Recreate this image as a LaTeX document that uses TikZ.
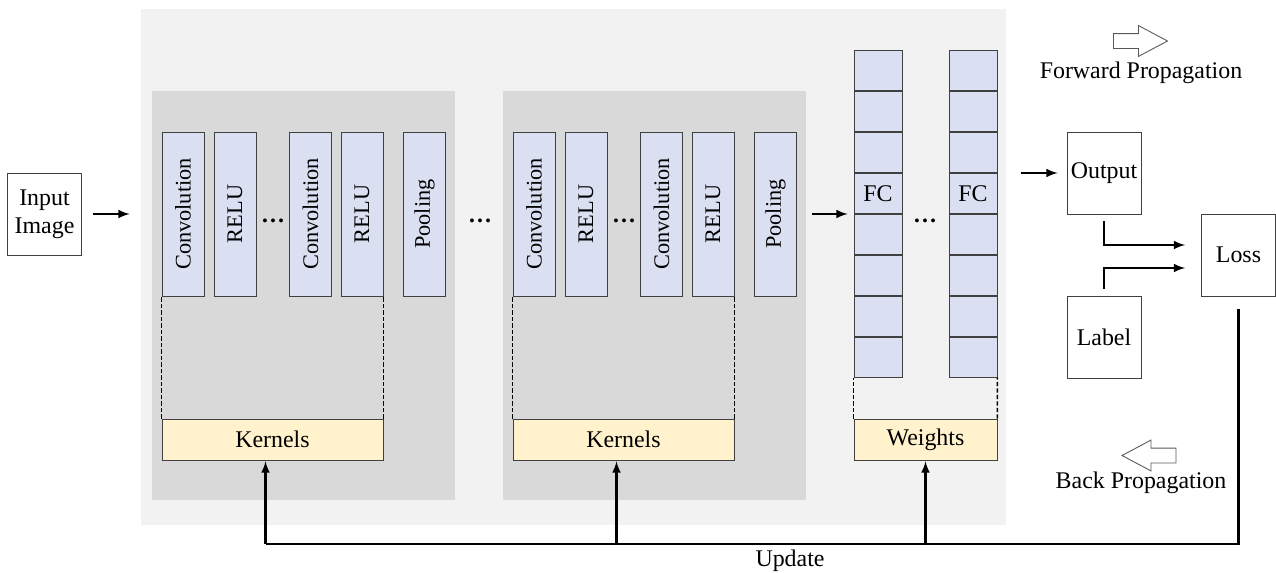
\documentclass[tikz,border=0pt]{standalone}
\usepackage{fontspec}
\setmainfont{LiberationSerif}[Extension=.ttf,UprightFont=*-Regular,BoldFont=*-Bold,ItalicFont=*-Italic,BoldItalicFont=*-BoldItalic]
\usetikzlibrary{arrows,shapes}
\usetikzlibrary{shapes.arrows}
\usetikzlibrary{calc}
\definecolor{outergray}{HTML}{F2F2F2}
\definecolor{panelgray}{HTML}{D9D9D9}
\definecolor{layerblue}{HTML}{DAE0F1}
\definecolor{kernyellow}{HTML}{FFF2CC}
\def\pu{0.02cm}
\tikzstyle{panel}=[rectangle,draw=none,inner sep=0pt]
\tikzstyle{layer}=[rectangle,draw=black!75,fill=layerblue,rotate=90,minimum width=164*\pu,minimum height=42*\pu,inner sep=0pt,font=\fontsize{12.7}{15}\selectfont]
\tikzstyle{cell}=[rectangle,draw=black!75,fill=layerblue,minimum width=48*\pu,minimum height=39.5*\pu,inner sep=0pt]
\tikzstyle{kernel}=[rectangle,draw=black!75,fill=kernyellow,minimum height=41*\pu,inner sep=0pt]
\tikzstyle{io}=[rectangle,draw=black!75,fill=white,minimum width=74*\pu,minimum height=82*\pu,inner sep=0pt,align=center]
\tikzstyle{flow}=[draw,line width=1.2pt,-latex]
\tikzstyle{updateline}=[draw,line width=1.2pt]
\tikzstyle{bracket}=[draw,line width=0.9pt,dash pattern=on 2.5pt off 1.2pt]
\tikzstyle{hollow}=[single arrow,draw=black!65,fill=white,line width=0.5pt,inner xsep=0pt,inner ysep=7*\pu,minimum width=0pt,single arrow head extend=8*\pu,single arrow tip angle=56,minimum height=54*\pu]
\tikzstyle{dotsnode}=[inner sep=0pt,font=\fontsize{13.6}{16}\selectfont\bfseries]

\begin{document}
\begin{tikzpicture}[x=\pu, y=-\pu, font=\fontsize{13.6}{16}\selectfont]

\useasboundingbox (0,0) rectangle (1276,572);

% Backgrounds
\node[panel,fill=outergray,minimum width=865*\pu,minimum height=516*\pu] (outer) at (573.5,267) {};
\foreach \dx/\p in {0/1, 351/2}
    \node[panel,fill=panelgray,minimum width=303*\pu,minimum height=409*\pu] (panel\p) at (303.5+\dx,295.5) {};

% Convolution blocks
\foreach \dx/\p in {0/1, 351/2} {
    \node[layer] (convA\p) at (183+\dx,214) {Convolution};
    \node[layer] (reluA\p) at (235+\dx,214) {RELU};
    \node[layer] (convB\p) at (310.5+\dx,214) {Convolution};
    \node[layer] (reluB\p) at (362+\dx,214) {RELU};
    \node[layer] (pool\p) at (424.5+\dx,214) {Pooling};
    \node[dotsnode] (dots\p) at (273+\dx,221) {\dots};
    \node[kernel,minimum width=221*\pu] (kern\p) at (272.5+\dx,439.5) {Kernels};
    \draw[bracket] (kern\p.north west) -- (kern\p.north west |- convA\p.west);
    \draw[bracket] (kern\p.north east) -- (kern\p.north east |- reluB\p.west);
}
\node[dotsnode] (dotsmid) at (480,221) {\dots};

% Fully connected layers
\foreach \cx/\c in {878/a, 973/b}
    \foreach \k/\t in {1/{},2/{},3/{},4/FC,5/{},6/{},7/{},8/{}}
        \node[cell] (fc\c\k) at (\cx,29.5+41*\k) {\t};
\node[dotsnode] (dotsfc) at (925,221) {\dots};
\node[kernel,minimum width=143*\pu] (wts) at (925.5,439.5) {Weights};
\draw[bracket] (wts.north west) -- (fca8.south west);
\draw[bracket] (wts.north east) -- (fcb8.south east);

% Input, output, loss
\node[io] (input) at (44.5,214) {Input\\Image};
\node[io] (out) at (1104,173) {Output};
\node[io] (lbl) at (1104,337) {Label};
\node[io] (loss) at (1238.5,255) {Loss};

\draw[flow, shorten <=11*\pu, shorten >=22*\pu] (input.east) -- (input.east -| panel1.west);
\draw[flow, shorten <=6*\pu, shorten >=6*\pu] (panel2.east |- pool2) -- (fca4.west |- pool2);
\draw[flow, shorten <=24*\pu, shorten >=9*\pu] (out.west -| fcb4.east) -- (out.west);
\draw[flow, shorten <=7*\pu, shorten >=16*\pu] (out.south) |- ([yshift=10*\pu]loss.west);
\draw[flow, shorten <=7*\pu, shorten >=16*\pu] (lbl.north) |- ([yshift=-13*\pu]loss.west);

% Update path
\coordinate (upd) at (1240,544);
\draw[updateline] ([yshift=-13*\pu]loss.south) -- (loss.south |- upd) -- ([xshift=-7*\pu]kern1.south |- upd);
\foreach \n/\sx in {kern1/-7,kern2/-7,wts/0}
    \draw[flow, shorten >=1*\pu] ([xshift=\sx*\pu]\n.south |- upd) -- ([xshift=\sx*\pu]\n.south);
\node (update) at (790,561) {Update};

% Legend
\node[hollow] (fwd) at (1133.5,41) {};
\node (fwdtext) at (1141,73) {Forward Propagation};
\node[hollow,shape border rotate=180] (back) at (1156,455.5) {};
\node (backtext) at (1141,483) {Back Propagation};

\end{tikzpicture}
\end{document}
